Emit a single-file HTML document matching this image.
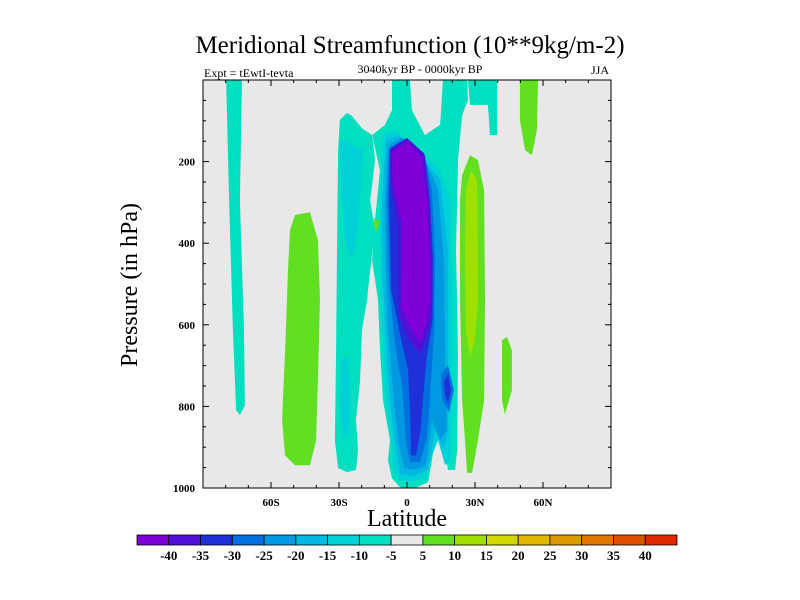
<!DOCTYPE html>
<html><head><meta charset="utf-8"><style>
body{margin:0;background:#fff;}
svg{display:block;font-family:"Liberation Serif",serif;}
</style></head><body>
<svg id="chart" width="800" height="600" viewBox="0 0 800 600">
<text x="410" y="53" font-size="25" text-anchor="middle">Meridional Streamfunction (10**9kg/m-2)</text>
<text x="420" y="73" font-size="12" text-anchor="middle">3040kyr BP - 0000kyr BP</text>
<text x="204" y="77" font-size="12">Expt = tEwtI-tevta</text>
<text x="609" y="74" font-size="12" text-anchor="end">JJA</text>
<text transform="translate(137,285) rotate(-90)" font-size="24" text-anchor="middle">Pressure (in hPa)</text>
<text x="407" y="526" font-size="24" text-anchor="middle">Latitude</text>
<rect x="203" y="80" width="408" height="408" fill="#e8e8e8"/>
<g id="contours"></g>
<g id="axes"></g>
<rect x="203" y="80" width="408" height="408" fill="none" stroke="#000" stroke-width="1"/>
<g id="colorbar"></g>
</svg>
<script>
const levelColors = ["#8000d8","#5010d8","#2030d8","#0070e0","#0098e0","#00b8e0","#00d0d8","#00e0c0","#e8e8e8","#60e020","#a0e000","#d0d800","#e0b800","#e09800","#e07800","#e05000","#e02800"];
const colorbarLabels = [-40,-35,-30,-25,-20,-15,-10,-5,5,10,15,20,25,30,35,40];
const xTickLabels = ["60S","30S","0","30N","60N"];
const xTickValues = [-60,-30,0,30,60];
const yTickValues = [200,400,600,800,1000];

// contour region boundaries: latitude (deg) and pressure (hPa); level = colour index
const tealStripLat = [-79.8,-72.8,-73.7,-71.9,-71.5,-73.7,-75.4,-76.8,-78.5];
const tealStripP = [0,0,294,613,797,821,809,613,294];
const tealBlobLat = [-26.5,-24.3,-19.9,-15.4,-14.1,-15.4,-16.3,-14.1,-16.3,-17.6,-19.9,-20.7,-22.5,-21.6,-22.5,-26.5,-30.4,-31.8,-31.3,-30.9,-30.4,-29.6];
const tealBlobP = [81,88,118,135,196,257,294,368,466,539,613,736,834,907,956,961,951,883,662,417,172,98];
const cyanLeftUpLat = [-29.6,-24.3,-19.4,-20.7,-22.9,-25.1,-27.3,-28.7];
const cyanLeftUpP = [147,159,172,294,417,441,392,294];
const cyanLeftLoLat = [-28.7,-26.0,-25.1,-26.0,-28.2,-29.6];
const cyanLeftLoP = [687,674,785,875,875,785];
const tealTopRLat = [26.9,39.7,39.7,36.6,35.7,27.8];
const tealTopRP = [0,0,135,135,61,61];
const tealCenLat = [-6.6,1.3,2.2,7.9,14.6,15.9,26.5,26.9,24.3,22.5,21.6,22.5,22.1,21.2,18.1,15.9,13.7,11.0,9.3,3.5,-3.1,-6.6,-8.4,-7.5,-10.6,-11.9,-12.8,-15.4,-14.1,-11.9,-15.4,-9.7,-6.6];
const tealCenP = [0,0,74,135,110,0,0,49,86,196,417,662,907,956,956,883,834,932,986,1000,998,976,932,883,785,662,539,441,343,221,135,110,74];
const cyanCenLat = [-10.6,-5.3,-0.9,5.7,14.6,19.0,19.9,19.9,19.0,16.8,13.7,11.0,7.9,1.3,-4.0,-6.2,-6.6,-9.3,-10.6,-11.9,-11.9];
const cyanCenP = [135,123,147,172,221,294,539,785,932,944,883,920,976,986,981,944,883,785,638,490,294];
const lbCenLat = [-9.3,-3.1,5.7,14.6,18.1,18.1,18.1,16.3,12.4,9.3,2.2,-3.1,-4.9,-7.5,-9.3,-10.6,-11.0];
const lbCenP = [147,135,184,245,417,662,858,907,858,956,971,966,907,785,638,490,294];
const blueCenLat = [-8.4,-2.2,6.6,13.7,16.3,16.8,17.6,14.6,11.0,8.4,3.1,-1.3,-4.0,-6.2,-8.4,-9.3,-9.7];
const blueCenP = [159,142,177,270,441,662,858,883,834,944,956,951,883,760,613,466,294];
const b25Lat = [-7.9,-1.3,7.5,11.0,12.5,12.0,10.0,9.5,8.5,5.7,1.3,-0.5,-2.0,-5.5,-8.0,-8.8];
const b25P = [167,145,179,270,441,613,785,834,883,937,937,883,760,638,490,294];
const spotOuterLat = [15.0,18.1,20.7,18.5,15.4];
const spotOuterP = [723,699,760,814,780];
const spotInnerLat = [16.3,18.1,19.4,18.1,16.8];
const spotInnerP = [740,721,760,792,772];
const b30Lat = [-7.5,-0.9,7.9,10.1,11.5,11.3,8.5,7.0,6.0,4.0,1.8,1.5,0.5,-3.0,-7.0,-7.9];
const b30P = [172,147,184,294,441,588,687,785,858,920,920,834,711,625,515,294];
const b35Lat = [-7.3,0,7.5,9.9,11.2,11.2,9.8,6.2,1.3,-3.5,-4.0,-4.0,-7.3];
const b35P = [168,142,180,290,441,560,610,672,640,580,466,356,250];
const purpleLat = [-6.6,0.4,6.6,8.8,10.1,10.1,8.8,5.7,2.2,-2.6,-2.2,-2.2,-6.2];
const purpleP = [177,152,189,294,441,539,593,645,613,557,441,351,250];
const greenDotLat = [-14.6,-11.9,-13.7,-14.6];
const greenDotP = [338,348,373,356];
const greenColLat = [24.3,27.8,31.3,34.0,34.4,34.0,31.3,28.7,26.5,25.6,24.3,23.4,23.4];
const greenColP = [233,184,196,270,539,785,883,963,963,883,785,539,294];
const ygColLat = [26.0,28.2,30.9,31.3,31.3,30.0,27.8,26.0,25.6];
const ygColP = [270,221,245,417,539,638,679,613,417];
const greenSmallRLat = [41.9,44.1,46.3,46.3,43.2,41.9];
const greenSmallRP = [638,630,662,760,819,785];
const greenTopRLat = [49.8,57.8,57.3,55.1,52.1,49.8];
const greenTopRP = [0,0,123,184,172,98];
const greenLeftLat = [-49.4,-42.8,-39.3,-38.4,-39.3,-40.1,-42.8,-49.4,-53.8,-55.1,-53.8,-52.5,-51.6];
const greenLeftP = [331,324,392,539,736,883,944,944,920,834,662,466,368];

const regions = [
 ["teal-strip-left",tealStripLat,tealStripP,7],
 ["teal-blob-left",tealBlobLat,tealBlobP,7],
 ["cyan-left-upper",cyanLeftUpLat,cyanLeftUpP,6],
 ["cyan-left-lower",cyanLeftLoLat,cyanLeftLoP,6],
 ["teal-top-right",tealTopRLat,tealTopRP,7],
 ["teal-central",tealCenLat,tealCenP,7],
 ["cyan-central",cyanCenLat,cyanCenP,6],
 ["lightblue-central",lbCenLat,lbCenP,5],
 ["blue-central",blueCenLat,blueCenP,4],
 ["blue25-central",b25Lat,b25P,3],
 ["spot-outer",spotOuterLat,spotOuterP,3],
 ["spot-inner",spotInnerLat,spotInnerP,2],
 ["blue30-central",b30Lat,b30P,2],
 ["blue35-central",b35Lat,b35P,1],
 ["purple-core",purpleLat,purpleP,0],
 ["green-dot",greenDotLat,greenDotP,9],
 ["green-column",greenColLat,greenColP,9],
 ["yellowgreen-column",ygColLat,ygColP,10],
 ["green-small-right",greenSmallRLat,greenSmallRP,9],
 ["green-top-right",greenTopRLat,greenTopRP,9],
 ["green-left",greenLeftLat,greenLeftP,9]
];

const X0=203,X1=611,Y0=80,Y1=488;
function xScale(lat){return X0+(lat+90)/180*(X1-X0);}
function yScale(p){return Y0+p/1000*(Y1-Y0);}
const NS="http://www.w3.org/2000/svg";
const cg=document.getElementById('contours');
regions.forEach(r=>{
  const el=document.createElementNS(NS,'polygon');
  el.setAttribute('points',r[1].map((v,i)=>xScale(v).toFixed(1)+','+yScale(r[2][i]).toFixed(1)).join(' '));
  el.setAttribute('fill',levelColors[r[3]]);
  
  
  cg.appendChild(el);
});

const ax=document.getElementById('axes');
function line(x1,y1,x2,y2,name){
  const l=document.createElementNS(NS,'line');
  l.setAttribute('x1',x1);l.setAttribute('y1',y1);l.setAttribute('x2',x2);l.setAttribute('y2',y2);
  l.setAttribute('stroke','#000');l.setAttribute('stroke-width','1');
  
  
  ax.appendChild(l);
}
function text(x,y,s,anchor,size,name,parent){
  const t=document.createElementNS(NS,'text');
  t.setAttribute('x',x);t.setAttribute('y',y);t.setAttribute('text-anchor',anchor);
  t.setAttribute('font-size',size);t.setAttribute('font-weight','bold');
  t.textContent=s;
  
  
  parent.appendChild(t);
}
for(let lat=-90;lat<=90;lat+=10){
  const x=xScale(lat), major=(lat%30===0), L=major?6:3;
  line(x,Y1,x,Y1-L,'x-tick');
  line(x,Y0,x,Y0+L,'x-tick-top');
}
for(let p=0;p<=1000;p+=50){
  const y=yScale(p), major=(p%200===0), L=major?6:3;
  line(X0,y,X0+L,y,'y-tick');
  line(X1,y,X1-L,y,'y-tick-right');
}
xTickValues.forEach((v,i)=>text(xScale(v),506,xTickLabels[i],'middle',11,'x-tick-label',ax));
yTickValues.forEach(v=>text(X0-8,yScale(v)+4,String(v),'end',11,'y-tick-label',ax));

const cb=document.getElementById('colorbar');
const CB0=137,CB1=677,nBox=levelColors.length;
const boxW=(CB1-CB0)/nBox;
for(let i=0;i<nBox;i++){
  const r=document.createElementNS(NS,'rect');
  r.setAttribute('x',CB0+i*boxW);r.setAttribute('y',535);r.setAttribute('width',boxW);r.setAttribute('height',10);
  r.setAttribute('fill',levelColors[i]);r.setAttribute('stroke','#000');r.setAttribute('stroke-width','0.8');
  
  
  cb.appendChild(r);
}
colorbarLabels.forEach((v,i)=>{
  text(CB0+(i+1)*boxW,560,String(v),'middle',13,'colorbar-label',cb);
});
</script>
</body></html>
